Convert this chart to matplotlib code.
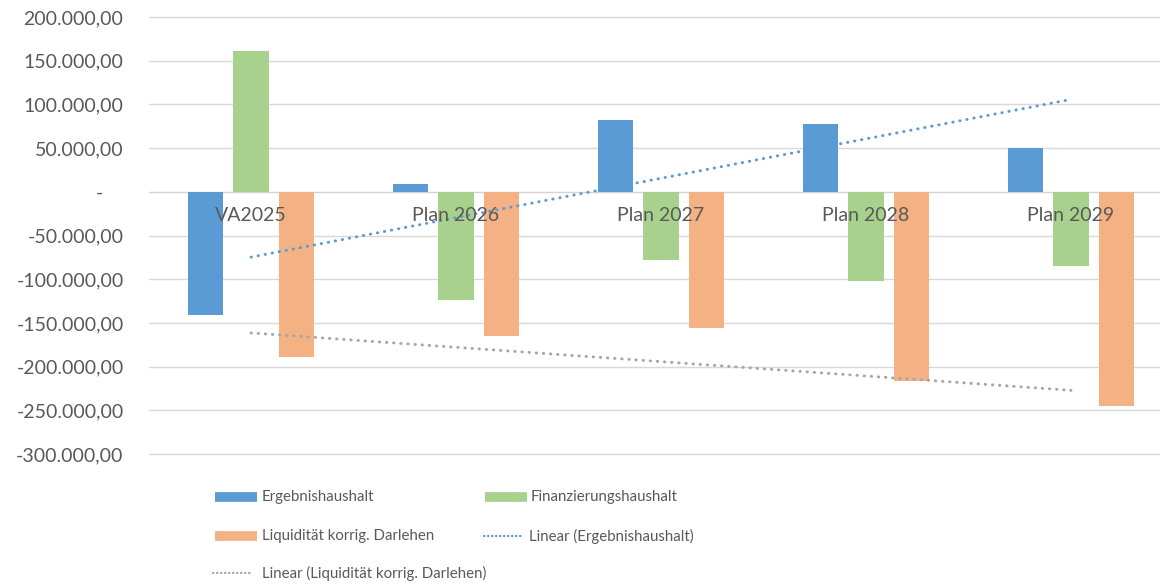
import numpy as np
import matplotlib
matplotlib.use("Agg")
import matplotlib.pyplot as plt
from matplotlib.lines import Line2D
from matplotlib.ticker import FuncFormatter, MultipleLocator

categories = ["VA2025", "Plan 2026", "Plan 2027", "Plan 2028", "Plan 2029"]
ergebnis = [-141000, 9000, 81600, 77500, 50300]
finanzierung = [161000, -124000, -78000, -102600, -85000]
liquiditaet = [-189000, -165000, -156000, -216000, -245600]
series_names = ["Ergebnishaushalt", "Finanzierungshaushalt", "Liquidität korrig. Darlehen"]
trend_names = ["Linear (Ergebnishaushalt)", "Linear (Liquidität korrig. Darlehen)"]

C_BLUE = "#5B9BD5"
C_GREEN = "#A9D18E"
C_ORANGE = "#F4B183"
C_GREY = "#A5A5A5"
TXT = "#595959"
FONT = "Lato"

plt.rcParams["font.family"] = [FONT, "DejaVu Sans"]

W, H = 1160, 584
fig = plt.figure(figsize=(W / 100, H / 100), dpi=100)
left_px, right_px, top_px, bot_px = 148.5, 1173.5, 17, 454
ax = fig.add_axes([left_px / W, 1 - bot_px / H, (right_px - left_px) / W, (bot_px - top_px) / H])

x = np.arange(len(categories))
bw = 0.171
off = 0.222
ax.bar(x - off, ergebnis, bw, color=C_BLUE, zorder=2)
ax.bar(x, finanzierung, bw, color=C_GREEN, zorder=2)
ax.bar(x + off, liquiditaet, bw, color=C_ORANGE, zorder=2)

# linear trendlines (least squares over the categories)
dot = (0, (0.15, 2.3))
for vals, col in [(ergebnis, C_BLUE), (liquiditaet, C_GREY)]:
    k, d = np.polyfit(x, vals, 1)
    ax.plot([x[0], x[-1]], [k * x[0] + d, k * x[-1] + d], color=col, lw=2.1,
            linestyle=dot, dash_capstyle="round", zorder=3)

ax.set_xlim(-0.5, len(categories) - 0.5)
ax.set_ylim(-300000, 200000)
ax.yaxis.set_major_locator(MultipleLocator(50000))


def de_fmt(v, pos):
    if abs(v) < 1e-6:
        return "-    "
    s = f"{v:,.2f}"
    return s.replace(",", "X").replace(".", ",").replace("X", ".")


ax.yaxis.set_major_formatter(FuncFormatter(de_fmt))
ax.grid(axis="y", color="#D9D9D9", lw=1.0, zorder=0)
ax.set_axisbelow(True)
for sp in ["top", "right", "left"]:
    ax.spines[sp].set_visible(False)
ax.spines["bottom"].set_position(("data", 0))
ax.spines["bottom"].set_color("#D4D4D4")
ax.spines["bottom"].set_zorder(1)
ax.set_xticks(x)
ax.set_xticklabels(categories)
ax.tick_params(axis="y", length=0, pad=18, labelsize=14, labelcolor=TXT)
ax.tick_params(axis="x", length=0, pad=11, labelsize=14, labelcolor=TXT)
ax.xaxis.set_zorder(4)
for gl in ax.get_ygridlines():
    gl.set_clip_on(False)

# legend (drawn manually to match the source layout)
def fx(px):
    return px / W


def fy(py):
    return 1 - py / H


legend_items = [
    ("patch", C_BLUE, 215, 257, 497, 262, series_names[0]),
    ("patch", C_GREEN, 485, 527, 497, 531, series_names[1]),
    ("patch", C_ORANGE, 215, 257, 536, 262, series_names[2]),
    ("dot", C_BLUE, 484, 524, 536, 529, trend_names[0]),
    ("dot", C_GREY, 213, 253, 573, 262, trend_names[1]),
]
for kind, col, x0, x1, yy, tx, label in legend_items:
    if kind == "patch":
        fig.add_artist(Line2D([fx(x0), fx(x1)], [fy(yy), fy(yy)], color=col, lw=7,
                              solid_capstyle="butt", transform=fig.transFigure))
    else:
        fig.add_artist(Line2D([fx(x0), fx(x1)], [fy(yy), fy(yy)], color=col, lw=1.6,
                              linestyle=(0, (0.2, 1.6)), dash_capstyle="round",
                              transform=fig.transFigure))
    fig.text(fx(tx), fy(yy), label, fontsize=10.8, color=TXT, va="center", ha="left")

fig.savefig("out.png", dpi=100)
